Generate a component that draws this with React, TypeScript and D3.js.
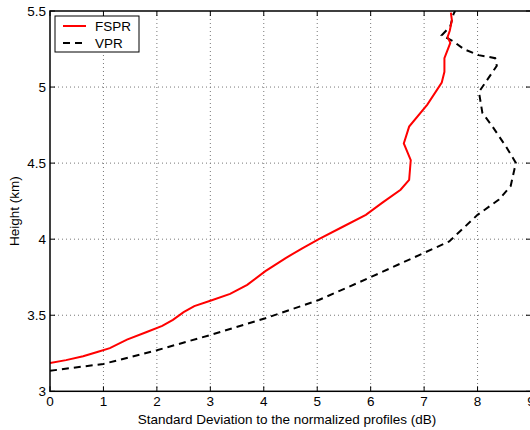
import { useEffect } from "react";
import * as d3 from "d3";

// FSPR profile (red, solid): std deviation (dB) vs height (km)
const fsprStd = [0, 0.3, 0.62, 0.9, 1.12, 1.44, 1.81, 2.1, 2.3, 2.5, 2.7, 3.0, 3.37, 3.69, 4.03, 4.41, 4.72, 5.03, 5.47, 5.91, 6.22, 6.56, 6.72, 6.75, 6.62, 6.72, 7.06, 7.33, 7.38, 7.38, 7.49, 7.44, 7.48, 7.52, 7.5];
const fsprHeight = [3.186, 3.205, 3.23, 3.26, 3.284, 3.34, 3.39, 3.43, 3.47, 3.52, 3.56, 3.595, 3.64, 3.7, 3.79, 3.876, 3.94, 4.0, 4.08, 4.16, 4.24, 4.325, 4.39, 4.52, 4.63, 4.74, 4.885, 5.03, 5.1, 5.19, 5.29, 5.33, 5.37, 5.44, 5.49];

// VPR profile (black, dashed)
const vprStd = [0, 1.0, 2.0, 3.0, 4.03, 5.03, 6.03, 7.03, 7.47, 8.0, 8.4, 8.62, 8.69, 8.72, 8.53, 8.28, 8.09, 8.03, 8.05, 8.36, 8.33, 8.02, 7.74, 7.55, 7.33, 7.49, 7.55, 7.58];
const vprHeight = [3.135, 3.18, 3.27, 3.37, 3.48, 3.6, 3.755, 3.915, 3.985, 4.16, 4.26, 4.35, 4.46, 4.5, 4.61, 4.74, 4.83, 4.96, 4.98, 5.14, 5.19, 5.21, 5.25, 5.3, 5.34, 5.4, 5.48, 5.5];

const xTicks = [0, 1, 2, 3, 4, 5, 6, 7, 8, 9];
const yTicks = [3, 3.5, 4, 4.5, 5, 5.5];
const seriesNames = ["FSPR", "VPR"];

const font = "'Liberation Sans', Arial, sans-serif";

export default function App() {
  useEffect(() => {
    document.body.style.margin = "0";
  }, []);

  const left = 50;
  const right = 531;
  const top = 11;
  const bottom = 391.3;

  const x = d3.scaleLinear().domain([0, 9]).range([left, right]);
  const y = d3.scaleLinear().domain([3, 5.5]).range([bottom, top]);

  const line = d3
    .line<[number, number]>()
    .x((d) => x(d[0]))
    .y((d) => y(d[1]));

  const fspr = fsprStd.map((v, i) => [v, fsprHeight[i]] as [number, number]);
  const vpr = vprStd.map((v, i) => [v, vprHeight[i]] as [number, number]);

  const tickLen = 5;

  return (
    <svg width={530} height={430} style={{ display: "block", background: "#fff" }}>
      <defs>
        <clipPath id="plotArea">
          <rect x={left} y={top} width={right - left} height={bottom - top} />
        </clipPath>
      </defs>

      {/* grid */}
      <g stroke="#777" strokeWidth={1} strokeDasharray="1,3">
        {xTicks.slice(1, -1).map((t) => (
          <line key={"gx" + t} x1={x(t)} x2={x(t)} y1={top} y2={bottom} />
        ))}
        {yTicks.slice(1, -1).map((t) => (
          <line key={"gy" + t} x1={left} x2={right} y1={y(t)} y2={y(t)} />
        ))}
      </g>

      {/* ticks (inward, all sides) */}
      <g stroke="#000" strokeWidth={1}>
        {xTicks.map((t) => (
          <g key={"tx" + t}>
            <line x1={x(t)} x2={x(t)} y1={bottom} y2={bottom - tickLen} />
            <line x1={x(t)} x2={x(t)} y1={top} y2={top + tickLen} />
          </g>
        ))}
        {yTicks.map((t) => (
          <g key={"ty" + t}>
            <line x1={left} x2={left + tickLen} y1={y(t)} y2={y(t)} />
            <line x1={right} x2={right - tickLen} y1={y(t)} y2={y(t)} />
          </g>
        ))}
      </g>

      {/* data */}
      <g clipPath="url(#plotArea)" fill="none">
        <path d={line(vpr) || ""} stroke="#000" strokeWidth={2} strokeDasharray="7,5" />
        <path d={line(fspr) || ""} stroke="#ff0000" strokeWidth={2} />
      </g>

      {/* frame */}
      <rect x={left} y={top} width={right - left} height={bottom - top} fill="none" stroke="#000" strokeWidth={1.5} />

      {/* tick labels */}
      <g fontFamily={font} fontSize={13.5} fill="#000">
        {xTicks.map((t) => (
          <text key={"lx" + t} x={x(t)} y={bottom + 15} textAnchor="middle">
            {t}
          </text>
        ))}
        {yTicks.map((t) => (
          <text key={"ly" + t} x={left - 4} y={y(t) + 5} textAnchor="end">
            {t}
          </text>
        ))}
      </g>

      {/* axis labels */}
      <text x={287} y={424} fontFamily={font} fontSize={13.5} textAnchor="middle">
        Standard Deviation to the normalized profiles (dB)
      </text>
      <text
        transform={`translate(19, ${(top + bottom) / 2 + 10}) rotate(-90)`}
        fontFamily={font}
        fontSize={13.5}
        textAnchor="middle"
      >
        Height (km)
      </text>

      {/* legend */}
      <g fontFamily={font} fontSize={13.5}>
        <rect x={55} y={16} width={84} height={36} fill="#fff" stroke="#000" strokeWidth={1} />
        <line x1={63} x2={86} y1={26} y2={26} stroke="#ff0000" strokeWidth={2} />
        <text x={95} y={30.5}>{seriesNames[0]}</text>
        <line x1={63} x2={86} y1={43} y2={43} stroke="#000" strokeWidth={2} strokeDasharray="7,5" />
        <text x={95} y={47.5}>{seriesNames[1]}</text>
      </g>
    </svg>
  );
}
